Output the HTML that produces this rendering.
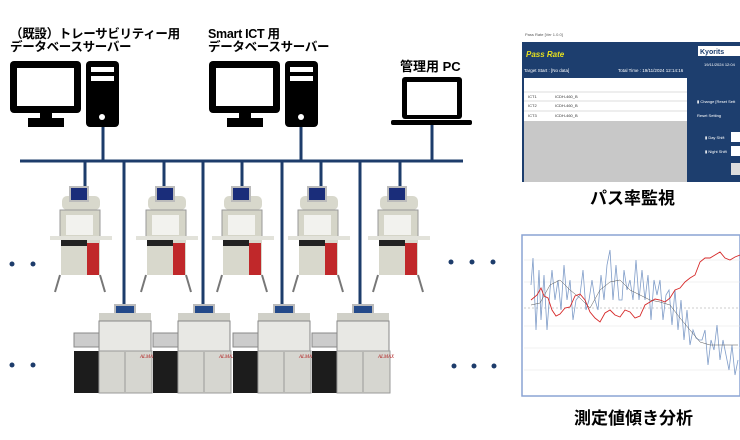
<!DOCTYPE html>
<html><head><meta charset="utf-8"><style>
body{margin:0;width:740px;height:440px;background:#fff;overflow:hidden;position:relative;font-family:"Liberation Sans","Noto Sans CJK JP",sans-serif}
.t{position:absolute;font-weight:bold;color:#000;white-space:nowrap}
</style></head><body>
<div class="t" style="left:10px;top:28px;font-size:12.5px;line-height:12.5px;letter-spacing:-0.3px">（既設）トレーサビリティー用<br>データベースサーバー</div>
<div class="t" style="left:208px;top:28px;font-size:12.5px;line-height:12.5px;letter-spacing:-0.3px">Smart ICT 用<br>データベースサーバー</div>
<div class="t" style="left:400px;top:56px;font-size:13px">管理用 PC</div>
<div class="t" style="left:590px;top:184px;font-size:17px">パス率監視</div>
<div class="t" style="left:574px;top:404px;font-size:17px">測定値傾き分析</div>
<svg width="740" height="440" style="position:absolute;left:0;top:0">
<g fill="#000">
<rect x="10" y="61" width="71" height="52" rx="4"/><rect x="40" y="112" width="12" height="8"/><rect x="28" y="118" width="36" height="9"/>
<rect x="86" y="61" width="33" height="66" rx="4"/>
<rect x="209" y="61" width="71" height="52" rx="4"/><rect x="239" y="112" width="12" height="8"/><rect x="227" y="118" width="36" height="9"/>
<rect x="285" y="61" width="33" height="66" rx="4"/>
<rect x="402" y="77" width="60" height="42" rx="3"/><rect x="391" y="120" width="81" height="5" rx="2"/>
</g>
<g fill="#fff">
<rect x="17" y="68" width="57" height="38"/><rect x="216" y="68" width="57" height="38"/>
<rect x="91" y="67" width="23" height="5"/><rect x="91" y="76" width="23" height="5"/>
<rect x="290" y="67" width="23" height="5"/><rect x="290" y="76" width="23" height="5"/>
<circle cx="102" cy="117" r="3"/><circle cx="301" cy="117" r="3"/>
<rect x="407" y="82" width="50" height="33"/>
</g>
<g stroke="#1d3c6b" stroke-width="3" fill="none">
<line x1="20" y1="161" x2="463" y2="161"/>
<line x1="103" y1="127" x2="103" y2="161"/><line x1="301" y1="127" x2="301" y2="161"/><line x1="432" y1="125" x2="432" y2="161"/>
<line x1="85" y1="161" x2="85" y2="187"/><line x1="164" y1="161" x2="164" y2="187"/><line x1="242" y1="161" x2="242" y2="187"/><line x1="321" y1="161" x2="321" y2="187"/><line x1="400" y1="161" x2="400" y2="187"/>
<line x1="124" y1="161" x2="124" y2="305"/><line x1="203" y1="161" x2="203" y2="305"/><line x1="282" y1="161" x2="282" y2="305"/><line x1="360" y1="161" x2="360" y2="305"/>
</g>
<g fill="#1d3c6b">
<circle cx="12" cy="264" r="2.5"/><circle cx="33" cy="264" r="2.5"/><circle cx="12" cy="365" r="2.5"/><circle cx="33" cy="365" r="2.5"/>
<circle cx="451" cy="262" r="2.5"/><circle cx="472" cy="262" r="2.5"/><circle cx="493" cy="262" r="2.5"/>
<circle cx="454" cy="366" r="2.5"/><circle cx="474" cy="366" r="2.5"/><circle cx="494" cy="366" r="2.5"/>
</g>
<g id="m">
<rect x="62" y="196" width="38" height="14" rx="5" fill="#d8d8cc"/>
<rect x="69" y="186" width="20" height="16" fill="#bbb"/><rect x="71" y="188" width="16" height="12" fill="#1a2d7a"/>
<rect x="60" y="210" width="40" height="27" fill="#d5d5c8" stroke="#999"/>
<rect x="66" y="215" width="27" height="20" fill="#f2f2ee"/>
<rect x="50" y="236" width="62" height="4" fill="#e2e2da"/>
<rect x="61" y="240" width="39" height="35" fill="#d8d8cc"/>
<rect x="61" y="240" width="26" height="6" fill="#222"/>
<rect x="87" y="243" width="12" height="32" fill="#c0282a"/>
<line x1="60" y1="275" x2="55" y2="292" stroke="#777" stroke-width="2"/><line x1="100" y1="275" x2="105" y2="292" stroke="#777" stroke-width="2"/>
</g>
<use href="#m" x="86"/><use href="#m" x="162"/><use href="#m" x="238"/><use href="#m" x="318"/>
<g id="l">
<rect x="114" y="304" width="22" height="16" fill="#bbb"/><rect x="116" y="306" width="18" height="12" fill="#244a8a"/>
<rect x="99" y="313" width="52" height="8" fill="#d0d0c8"/>
<rect x="99" y="321" width="52" height="30" fill="#e8e8e4" stroke="#888"/>
<rect x="74" y="333" width="25" height="14" fill="#ccc" stroke="#888"/>
<rect x="74" y="351" width="25" height="42" fill="#1c1c1c"/>
<rect x="99" y="351" width="53" height="42" fill="#d6d6d0" stroke="#999"/>
<line x1="125" y1="352" x2="125" y2="392" stroke="#999"/>
<text x="140" y="358" font-size="5" fill="#b02020" font-style="italic" font-family="Liberation Serif">ALMAX</text>
</g>
<use href="#l" x="79"/><use href="#l" x="159"/><use href="#l" x="238"/>
<rect x="522" y="27" width="218" height="15" fill="#fff"/>
<text x="525" y="36" font-size="4" fill="#555">Pass Rate [Ver 1.0.0]</text>
<rect x="522" y="42" width="218" height="140" fill="#1d3e6e"/>
<text x="526" y="57" font-size="8" font-weight="bold" font-style="italic" fill="#e6e01e">Pass Rate</text>
<text x="524" y="72" font-size="4.5" fill="#fff">Target Start : [No data]</text>
<text x="618" y="72" font-size="4.5" fill="#fff">Total Time : 19/11/2024 12:14:16</text>
<rect x="524" y="78" width="163" height="104" fill="#c8c8c8"/>
<rect x="524" y="78" width="163" height="43" fill="#fff"/>
<g stroke="#bbb" stroke-width=".5"><line x1="524" y1="92" x2="687" y2="92"/><line x1="524" y1="101" x2="687" y2="101"/><line x1="524" y1="111" x2="687" y2="111"/></g>
<g font-size="4" fill="#333"><text x="528" y="98">ICT1</text><text x="528" y="107">ICT2</text><text x="528" y="117">ICT3</text>
<text x="555" y="98">ICDH-460_B</text><text x="555" y="107">ICDH-460_B</text><text x="555" y="117">ICDH-460_B</text></g>
<rect x="698" y="46" width="42" height="10" fill="#fff"/><text x="700" y="54" font-size="7" font-weight="bold" fill="#1d3e6e">Kyorits</text>
<text x="704" y="66" font-size="4" fill="#fff">19/11/2024 12:04</text>
<text x="697" y="103" font-size="4" fill="#fff">▮ Change [Reset Sett</text>
<text x="697" y="117" font-size="4" fill="#fff">Reset Setting</text>
<text x="705" y="139" font-size="4" fill="#fff">▮ Day Shift</text><text x="705" y="153" font-size="4" fill="#fff">▮ Night Shift</text>
<rect x="731" y="132" width="9" height="10" fill="#fff"/><rect x="731" y="146" width="9" height="10" fill="#fff"/>
<rect x="731" y="163" width="9" height="12" fill="#ddd"/>
<rect x="522" y="235" width="218" height="161" fill="#fff" stroke="#8aa4d4" stroke-width="1.5"/>
<g stroke="#e4e4e4" stroke-width=".6"><line x1="524" y1="260" x2="740" y2="260"/><line x1="524" y1="282" x2="740" y2="282"/><line x1="524" y1="326" x2="740" y2="326"/><line x1="524" y1="348" x2="740" y2="348"/><line x1="524" y1="370" x2="740" y2="370"/></g>
<line x1="524" y1="308" x2="740" y2="308" stroke="#999" stroke-width=".6" stroke-dasharray="2,2"/>
<polyline fill="none" stroke="#7f9cc8" stroke-width=".8" points="531,285 533,258 536,330 539,270 541,320 544,275 547,330 550,290 552,270 555,300 558,280 561,310 564,265 567,300 570,280 573,320 576,300 580,295 583,270 586,310 589,300 592,280 595,300 598,310 601,275 604,300 607,265 610,250 613,300 616,265 619,300 622,300 624,270 627,290 630,280 633,300 636,260 639,300 642,270 645,300 648,275 651,320 654,280 657,295 660,280 663,320 666,295 669,290 672,325 675,290 678,330 681,300 684,340 687,310 690,345 693,330 696,338 699,340 702,340 705,330 708,365 711,340 714,350 717,325 720,360 723,340 726,355 729,370 732,345 735,375 738,360"/>
<polyline fill="none" stroke="#555" stroke-width=".5" points="531,305 540,303 550,285 560,280 570,290 580,298 590,308 600,290 610,282 620,280 630,290 640,295 650,300 660,302 670,305 680,318 690,330 700,342 710,345 720,345 738,345"/>
<polyline fill="none" stroke="#d62828" stroke-width=".9" points="531,300 537,295 541,288 544,296 548,298 552,310 556,316 560,314 565,308 570,307 575,296 580,294 585,300 590,312 595,318 600,322 605,313 610,310 615,315 620,317 625,310 630,312 635,318 640,316 645,305 650,302 655,299 660,300 665,302 670,298 675,290 680,288 685,282 690,278 695,275 700,262 705,258 710,258 715,255 720,252 725,258 730,260 735,257 740,255"/>
</svg>
</body></html>
